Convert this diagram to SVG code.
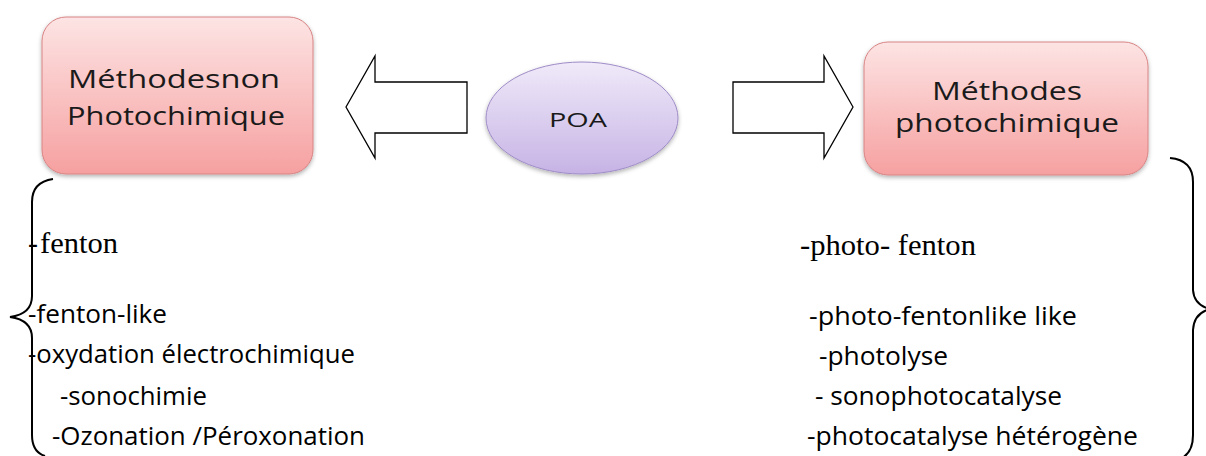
<svg xmlns="http://www.w3.org/2000/svg" width="1206" height="456" viewBox="0 0 1206 456">
<defs>
<linearGradient id="gPink" x1="0" y1="0" x2="0" y2="1">
<stop offset="0" stop-color="#fde4e4"/>
<stop offset="1" stop-color="#f6a0a0"/>
</linearGradient>
<linearGradient id="gLav" x1="0" y1="0" x2="0" y2="1">
<stop offset="0" stop-color="#f0eaf9"/>
<stop offset="1" stop-color="#c6b3e5"/>
</linearGradient>
<filter id="sh" x="-10%" y="-10%" width="130%" height="130%">
<feDropShadow dx="0" dy="2" stdDeviation="2" flood-color="#000" flood-opacity="0.3"/>
</filter>
</defs>
<style>
.box{fill:url(#gPink);stroke:#d88484;stroke-width:1;filter:url(#sh)}
.ell{fill:url(#gLav);stroke:#9f8cc7;stroke-width:1;filter:url(#sh)}
.arrow{fill:#fff;stroke:#000;stroke-width:1.3}
.brace{fill:none;stroke:#000;stroke-width:2}
.title{font-family:"Open Sans","Liberation Sans",sans-serif;font-size:25px;fill:#1a1a1a}
.sans{font-family:"Open Sans","Liberation Sans",sans-serif;font-size:25px;fill:#000}
.serif{font-family:"Liberation Serif","Times New Roman",serif;font-size:30px;fill:#000}
</style>
<rect width="1206" height="456" fill="#fff"/>

<g id="node-non-photo">
<rect class="box" x="42" y="17" width="271" height="157" rx="24"/>
<text class="title" x="174" y="88" text-anchor="middle" textLength="212" lengthAdjust="spacingAndGlyphs">Méthodesnon</text>
<text class="title" x="176" y="125" text-anchor="middle" textLength="218" lengthAdjust="spacingAndGlyphs">Photochimique</text>
</g>

<g id="node-poa">
<ellipse class="ell" cx="582" cy="118" rx="96" ry="56"/>
<text class="title" x="578" y="127" text-anchor="middle" textLength="58" lengthAdjust="spacingAndGlyphs" style="font-size:20px">POA</text>
</g>

<g id="node-photo">
<rect class="box" x="864" y="42" width="284" height="133" rx="24"/>
<text class="title" x="1007" y="100" text-anchor="middle" textLength="150" lengthAdjust="spacingAndGlyphs">Méthodes</text>
<text class="title" x="1007" y="132" text-anchor="middle" textLength="224" lengthAdjust="spacingAndGlyphs">photochimique</text>
</g>

<g id="connectors">
<polygon class="arrow" points="346,107 375,56 375,82 467,82 467,133 375,133 375,158"/>
<polygon class="arrow" points="853,107 824,56 824,82 733,82 733,133 824,133 824,158"/>
</g>

<g id="brace-left">
<path class="brace" d="M53,179 Q32,182 32,202 L32,296 Q32,314 10,317 Q32,320 32,338 L32,435 Q32,452 45,456"/>
</g>
<g id="brace-right">
<path class="brace" d="M1170,158 Q1193,160 1193,182 L1193,290 Q1194,305 1210,309 Q1194,313 1193,330 L1193,435 Q1193,452 1182,458"/>
</g>

<g id="list-left">
<text class="serif" x="28" y="253">-<tspan x="40" textLength="78" lengthAdjust="spacingAndGlyphs">fenton</tspan></text>
<text class="sans" x="28" y="323" textLength="139" lengthAdjust="spacingAndGlyphs">-fenton-like</text>
<text class="sans" x="28" y="363" textLength="327" lengthAdjust="spacingAndGlyphs">-oxydation électrochimique</text>
<text class="sans" x="60" y="405" textLength="147" lengthAdjust="spacingAndGlyphs">-sonochimie</text>
<text class="sans" x="52" y="445" textLength="313" lengthAdjust="spacingAndGlyphs">-Ozonation /Péroxonation</text>
</g>

<g id="list-right">
<text class="serif" x="800" y="255" textLength="176" lengthAdjust="spacingAndGlyphs">-photo- fenton</text>
<text class="sans" x="809" y="325" textLength="268" lengthAdjust="spacingAndGlyphs">-photo-fentonlike like</text>
<text class="sans" x="819" y="365" textLength="129" lengthAdjust="spacingAndGlyphs">-photolyse</text>
<text class="sans" x="815" y="405" textLength="247" lengthAdjust="spacingAndGlyphs">- sonophotocatalyse</text>
<text class="sans" x="807" y="445" textLength="331" lengthAdjust="spacingAndGlyphs">-photocatalyse hétérogène</text>
</g>
</svg>
